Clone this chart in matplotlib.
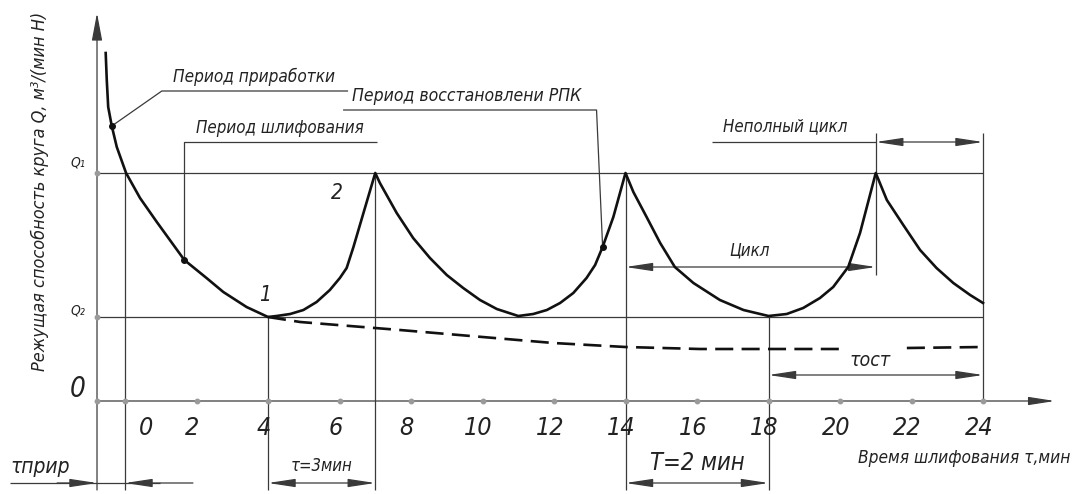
import matplotlib
matplotlib.use("Agg")
import matplotlib.pyplot as plt

plt.rcParams['lines.scale_dashes'] = False
plt.rcParams['font.family'] = ['DejaVu Sans']
plt.rcParams['font.stretch'] = 'condensed'

# ---------------- data ----------------
# time axis ticks (min)
x_ticks = [0, 2, 4, 6, 8, 10, 12, 14, 16, 18, 20, 22, 24]
x_tick_labels = [str(v) for v in x_ticks]

# levels of cutting ability (relative units)
Q1 = 2.28
Q2 = 0.84

# main curve: run-in, then grinding / dressing cycles
curve_t = [-0.54, -0.51, -0.47, -0.37, -0.23, 0.03, 0.42, 0.89, 1.66, 2.28, 2.75, 3.40, 4.00,
           4.24, 4.62, 4.99, 5.36, 5.73, 6.01, 6.20, 6.39, 6.67, 7.00,
           7.13, 7.60, 8.06, 8.53, 9.00, 9.46, 9.93, 10.40, 11.00,
           11.42, 11.80, 12.17, 12.54, 12.91, 13.15, 13.29, 13.36, 13.66, 14.00,
           14.22, 14.59, 14.97, 15.38, 15.90, 16.64, 17.30, 18.00,
           18.51, 18.97, 19.44, 19.81, 20.23, 20.56, 21.00,
           21.31, 21.77, 22.24, 22.70, 23.17, 23.64, 24.00]
curve_q = [3.48, 3.21, 2.94, 2.75, 2.54, 2.28, 2.03, 1.79, 1.41, 1.23, 1.09, 0.94, 0.84,
           0.85, 0.87, 0.91, 0.99, 1.11, 1.23, 1.33, 1.54, 1.88, 2.28,
           2.18, 1.88, 1.63, 1.43, 1.26, 1.13, 1.01, 0.92, 0.85,
           0.87, 0.91, 0.98, 1.08, 1.23, 1.36, 1.48, 1.54, 1.84, 2.28,
           2.09, 1.84, 1.58, 1.34, 1.18, 1.01, 0.91, 0.85,
           0.87, 0.93, 1.03, 1.14, 1.34, 1.68, 2.28,
           2.01, 1.76, 1.51, 1.33, 1.18, 1.06, 0.98]

# dashed curve (cutting ability without restoring)
dash_t1 = [4.00, 4.90, 6.29, 7.69, 10.00, 11.98, 14.00, 16.08, 18.00, 20.05]
dash_q1 = [0.84, 0.79, 0.75, 0.71, 0.64, 0.58, 0.54, 0.52, 0.52, 0.52]
dash_t2 = [21.87, 24.00]
dash_q2 = [0.53, 0.54]

# ---------------- figure ----------------
PX = 35.75      # pixels per minute
X0 = 125        # pixel of t = 0
fig = plt.figure(figsize=(10.73, 4.94), dpi=100)
ax = fig.add_axes([0, 0, 1, 1])
ax.set_xlim(-X0 / PX, (1073 - X0) / PX)
ax.set_ylim(-0.93, 4.01)
ax.axis('off')

THIN = dict(color='#3a3a3a', lw=0.9, solid_capstyle='butt')
TXT = dict(color='#222222', fontstyle='italic')
yax = -0.783
bottom = -0.89

# axes
ax.annotate('', xy=(yax, 3.88), xytext=(yax, bottom),
            arrowprops=dict(arrowstyle='-|>,head_length=1.7,head_width=0.32', mutation_scale=10,
                            lw=0.9, color='#3a3a3a', shrinkA=0, shrinkB=0))
ax.annotate('', xy=(26.01, 0), xytext=(yax, 0),
            arrowprops=dict(arrowstyle='-|>,head_length=1.6,head_width=0.25', mutation_scale=10,
                            lw=0.9, color='#3a3a3a', shrinkA=0, shrinkB=0))
ax.plot([yax] + x_ticks, [0] * (len(x_ticks) + 1), ls='none', marker='o', ms=3.2, color='#9a9a9a', zorder=3)
ax.plot([yax, yax], [Q1, Q2], ls='none', marker='o', ms=3.2, color='#9a9a9a', zorder=3)

# level lines
ax.plot([yax, 24], [Q1, Q1], **THIN)
ax.plot([yax, 24], [Q2, Q2], **THIN)

# vertical extension lines
ax.plot([0, 0], [Q1, bottom], **THIN)
ax.plot([4, 4], [Q2, bottom], **THIN)
ax.plot([7, 7], [Q1, bottom], **THIN)
ax.plot([14, 14], [Q1, bottom], **THIN)
ax.plot([18, 18], [Q2, bottom], **THIN)
ax.plot([21, 21], [2.68, 1.26], **THIN)
ax.plot([24, 24], [2.68, 0], **THIN)

# curves
ax.plot(curve_t, curve_q, color='#111111', lw=1.9, solid_joinstyle='round', zorder=4)
ax.plot(dash_t1, dash_q1, color='#111111', lw=1.9, dashes=(13, 6), zorder=4)
ax.plot(dash_t2, dash_q2, color='#111111', lw=1.9, dashes=(13, 6), zorder=4)

# leaders
pri = (-0.37, 2.75)
shl = (1.66, 1.41)
vos = (13.36, 1.54)
ax.plot([pri[0], 1.03, 6.24], [pri[1], 3.10, 3.10], **THIN)
ax.plot([shl[0], shl[0], 7.05], [shl[1], 2.59, 2.59], **THIN)
ax.plot([vos[0], 13.19, 6.10], [vos[1], 2.91, 2.91], **THIN)
ax.plot([pri[0], shl[0], vos[0]], [pri[1], shl[1], vos[1]], ls='none', marker='o', ms=4, color='#111111', zorder=5)
ax.text(1.34, 3.15, 'Период приработки', fontsize=12.3, ha='left', va='bottom', **TXT)
ax.text(1.99, 2.64, 'Период шлифования', fontsize=12.2, ha='left', va='bottom', **TXT)
ax.text(6.35, 2.96, 'Период восстановлени РПК', fontsize=12.6, ha='left', va='bottom', **TXT)


def dim(xa, xb, y):
    ax.annotate('', xy=(xb, y), xytext=(xa, y),
                arrowprops=dict(arrowstyle='<|-|>,head_length=1.65,head_width=0.25', mutation_scale=10,
                                lw=0.9, color='#3a3a3a', shrinkA=0, shrinkB=0))


# dimension lines
ax.plot([16.42, 21], [2.59, 2.59], **THIN)
dim(21, 24, 2.59)
ax.text(16.73, 2.66, 'Неполный цикл', fontsize=12.1, ha='left', va='bottom', **TXT)
dim(14, 21, 1.34)
ax.text(17.48, 1.51, 'Цикл', fontsize=12.2, ha='center', va='center', **TXT)
dim(18, 24, 0.26)
ax.text(20.84, 0.41, 'τост', fontsize=14, ha='center', va='center', **TXT)
dim(4, 7, -0.82)
ax.text(5.5, -0.65, 'τ=3мин', fontsize=12, ha='center', va='center', **TXT)
dim(14, 18, -0.82)
ax.text(16.0, -0.62, 'T=2 мин', fontsize=17, ha='center', va='center', **TXT)
ax.plot([-3.22, 0.98], [-0.82, -0.82], **THIN)
for xa, xb in ((-1.9, yax), (1.9, 0)):
    ax.annotate('', xy=(xb, -0.82), xytext=(xa, -0.82),
                arrowprops=dict(arrowstyle='-|>,head_length=1.65,head_width=0.25', mutation_scale=10,
                                lw=0.9, color='#3a3a3a', shrinkA=0, shrinkB=0))
ax.text(-2.38, -0.66, 'τприр', fontsize=15, ha='center', va='center', **TXT)

# tick labels
for v, lab in zip(x_ticks, x_tick_labels):
    if v == 0:
        ax.text(v + 0.38, -0.27, lab, fontsize=18, ha='left', va='center', **TXT)
    else:
        ax.text(v - 0.12, -0.27, lab, fontsize=18, ha='center', va='center', **TXT)
ax.text(-1.31, 0.12, '0', fontsize=20, ha='center', va='center', **TXT)
ax.text(-1.31, Q1 + 0.1, 'Q₁', fontsize=10, ha='center', va='center', **TXT)
ax.text(-1.31, Q2 + 0.06, 'Q₂', fontsize=10, ha='center', va='center', **TXT)
ax.text(3.92, 1.06, '1', fontsize=15, ha='center', va='center', **TXT)
ax.text(5.93, 2.08, '2', fontsize=15, ha='center', va='center', **TXT)

# axis titles
ax.text(23.47, -0.57, 'Время шлифования τ,мин', fontsize=12.4, ha='center', va='center', **TXT)
ax.text(-2.38, 2.10, 'Режущая способность круга Q, м³/(мин Н)', fontsize=13,
        rotation=90, ha='center', va='center', **TXT)

fig.savefig('out.png', dpi=100)
